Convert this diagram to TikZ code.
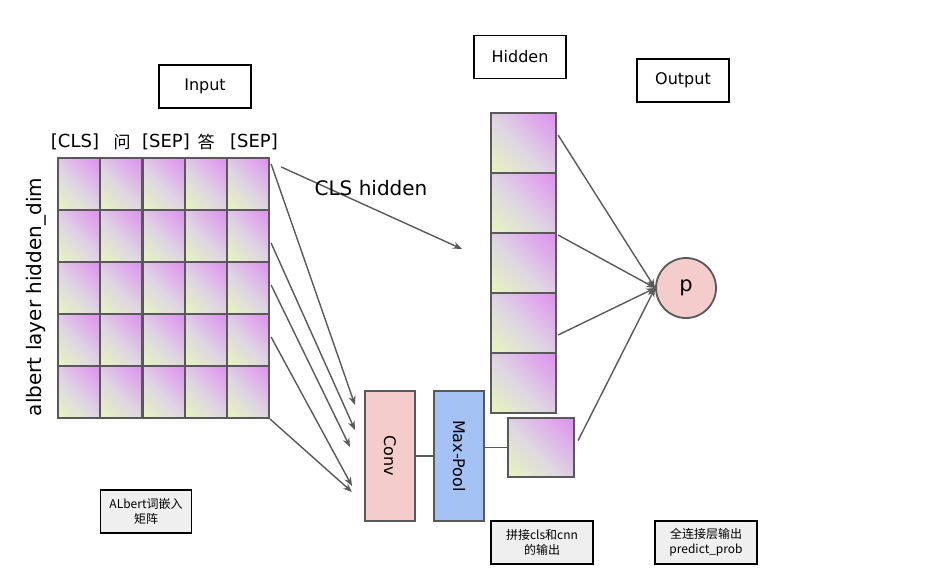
\documentclass[tikz,border=0pt]{standalone}
\usepackage{fontspec}
\setmainfont{DejaVu Sans}
\newfontfamily\cjk{Noto Sans CJK SC}
\usetikzlibrary{positioning,calc,arrows.meta}
\definecolor{linegrey}{RGB}{89,89,89}
\definecolor{cellmag}{RGB}{222,134,242}
\definecolor{cellmid}{RGB}{222,214,226}
\definecolor{cellyel}{RGB}{230,242,192}
\definecolor{convpink}{RGB}{244,204,204}
\definecolor{poolblue}{RGB}{164,194,244}
\definecolor{notegrey}{RGB}{239,239,239}

\pgfdeclareverticalshading{cellshade}{100bp}{color(0bp)=(cellyel); color(18bp)=(cellyel);
    color(46bp)=(cellmid); color(90bp)=(cellmag); color(100bp)=(cellmag)}

\tikzset{
    gradcell/.style={draw=linegrey, line width=2.2pt, inner sep=0pt, shading=cellshade, shading angle=-45},
    headbox/.style={draw=black, line width=1.4pt, minimum width=92pt, minimum height=43pt, font=\fontsize{16}{18}\selectfont},
    notebox/.style={draw=black, line width=1.4pt, fill=notegrey, minimum width=91pt, minimum height=43pt,
        align=center, font=\cjk\fontsize{12}{15}\selectfont},
    layerbox/.style={draw=linegrey, line width=1.8pt, minimum width=50pt, minimum height=130pt},
    conn/.style={draw=linegrey, line width=1.4pt},
    arr/.style={conn, -{Stealth[length=9pt,width=7pt]}}
}

\begin{document}
\begin{tikzpicture}[x=1pt, y=-1pt]
    \useasboundingbox (0,0) rectangle (933,579);

    % headers
    \node[headbox] (input) at (205,86.5) {Input};
    \node[headbox] (hidden) at (520,57) {Hidden};
    \node[headbox] (output) at (683,80.5) {Output};

    % embedding matrix
    \foreach \r in {0,...,4}
        \foreach \c in {0,...,4}
            \node[gradcell, minimum width=42.2pt, minimum height=52pt] (g-\r-\c) at ({79.1+42.2*\c},{184+52*\r}) {};

    \node[font=\fontsize{18}{20}\selectfont] (tok1) at (75,142) {[CLS]};
    \node[font=\cjk\fontsize{17}{20}\selectfont] (tok2) at (122,142) {问};
    \node[font=\fontsize{18}{20}\selectfont] (tok3) at (166,142) {[SEP]};
    \node[font=\cjk\fontsize{17}{20}\selectfont] (tok4) at (206,142) {答};
    \node[font=\fontsize{18}{20}\selectfont] (tok5) at (254,142) {[SEP]};
    \node[rotate=90, font=\fontsize{20}{22}\selectfont] (dimlabel) at (36,297) {albert layer hidden\_dim};

    % conv + pool
    \node[layerbox, fill=convpink] (conv) at (390,456) {};
    \node[rotate=-90, font=\fontsize{16}{18}\selectfont] at (conv) {Conv};
    \node[layerbox, fill=poolblue] (pool) at (459,456) {};
    \node[rotate=-90, font=\fontsize{16}{18}\selectfont] at (pool) {Max-Pool};

    % hidden column
    \foreach \r in {0,...,4}
        \node[gradcell, minimum width=65pt, minimum height=60pt] (h-\r) at (523.5,{143+60*\r}) {};
    \node[gradcell, minimum width=66pt, minimum height=59pt] (cnnout) at (541,447.5) {};

    \node[circle, draw=linegrey, line width=1.8pt, fill=convpink, minimum size=60pt, font=\fontsize{21}{23}\selectfont] (p) at (686,288) {p};

    % arrows into conv
    \coordinate (t1) at (355,405);
    \coordinate (t2) at (355,430);
    \coordinate (t3) at (350,447);
    \coordinate (t4) at (352,486);
    \coordinate (t5) at (352,492);
    \draw[arr] ($(g-0-4.north east)+(1,7)$) -- (t1);
    \draw[arr] ($(g-1-4.east)+(1,7)$) -- (t2);
    \draw[arr] ($(g-2-4.east)+(1,-3)$) -- (t3);
    \draw[arr] ($(g-3-4.east)+(1,-3)$) -- (t4);
    \draw[arr] (g-4-4.south east) -- (t5);

    % cls hidden
    \coordinate (clstip) at (462,249);
    \draw[arr] ($(g-0-4.north east)+(11,10)$) -- (clstip);
    \node[font=\fontsize{20}{22}\selectfont] (clslabel) at (371,188) {CLS hidden};

    \draw[conn] (conv) -- (conv -| pool.west);
    \draw[conn] (pool.east |- cnnout.west) -- (cnnout.west);

    % fully connected
    \draw[arr] ($(h-0.east)+(1,-8)$) -- (p.west);
    \draw[arr] ($(h-2.east)+(1,-28)$) -- (p.west);
    \draw[arr] ($(h-3.east)+(1,12)$) -- (p.west);
    \draw[arr] ($(cnnout.east)+(3,-7)$) -- (p.west);

    % notes
    \node[notebox] (note1) at (146,511.5) {ALbert词嵌入\\矩阵};
    \node[notebox, minimum width=102pt] (note2) at (542,542.5) {拼接cls和cnn\\的输出};
    \node[notebox, minimum width=102pt] (note3) at (706,542.5) {全连接层输出\\predict\_prob};
\end{tikzpicture}
\end{document}
